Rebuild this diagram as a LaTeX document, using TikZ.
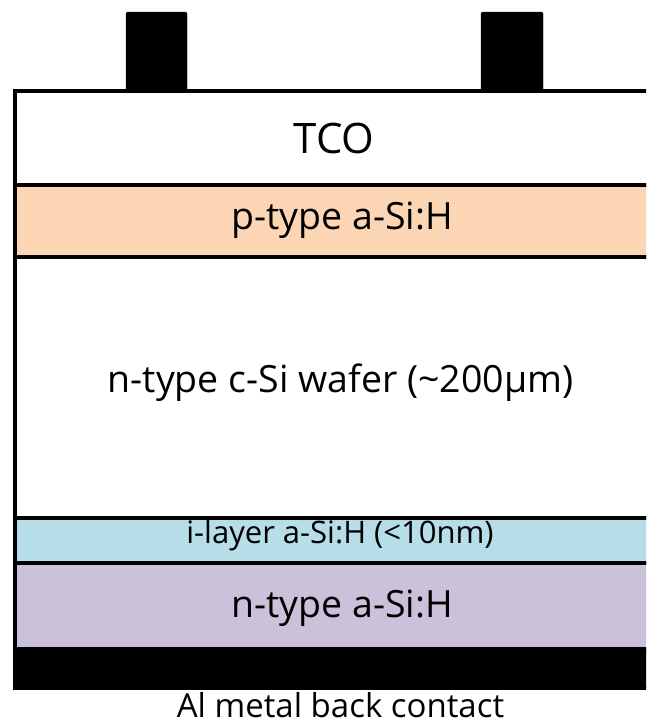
\documentclass[tikz,border=0pt]{standalone}
\usepackage{fontspec}
\setmainfont{Open Sans}
\definecolor{ptype}{HTML}{FCD5B5}
\definecolor{ilayer}{HTML}{B7DEE8}
\definecolor{ntype}{HTML}{CCC1DA}
\begin{document}
\begin{tikzpicture}[x=1pt,y=-1pt,
  layer/.style={draw=black,line width=4pt,minimum width=650pt,inner sep=0pt,outer sep=0pt},
  contact/.style={fill=black,rounded corners=1.5pt},
  lbl/.style={anchor=base,inner sep=0pt,text=black}]
\useasboundingbox (0,0) rectangle (646,726);
\clip (0,0) rectangle (646,726);
% front finger contacts
\filldraw[contact] (126,12) rectangle (187,92);
\filldraw[contact] (481,12) rectangle (543,92);
% layer stack, top to bottom
\node[layer,fill=white,minimum height=94pt]  (tco)   at (340,138) {};
\node[layer,fill=ptype,minimum height=72pt]  (pa)    at (340,221) {};
\node[layer,fill=white,minimum height=260.5pt] (wafer) at (340,387.25) {};
\node[layer,fill=ilayer,minimum height=45.5pt] (ia)  at (340,540.25) {};
\node[layer,fill=ntype,minimum height=86pt]  (na)    at (340,606) {};
\node[layer,fill=black,minimum height=37pt]  (back)  at (340,669.5) {};
% labels
\node[lbl,font=\fontsize{42}{44}\selectfont] (tcot) at (334,153) {TCO};
\node[lbl,font=\fontsize{37.5}{40}\selectfont] (pat) at (342,229) {p-type a-Si:H};
\node[lbl,font=\fontsize{37.5}{40}\selectfont] (wafert) at (340.5,392) {n-type c-Si wafer (\textasciitilde200µm)};
\node[lbl,font=\fontsize{31}{33}\selectfont] (iat) at (340,543) {i-layer a-Si:H (<10nm)};
\node[lbl,font=\fontsize{37.5}{40}\selectfont] (nat) at (342,617) {n-type a-Si:H};
\node[lbl,font=\fontsize{33}{35}\selectfont] (backt) at (340.5,717) {Al metal back contact};
\end{tikzpicture}
\end{document}
